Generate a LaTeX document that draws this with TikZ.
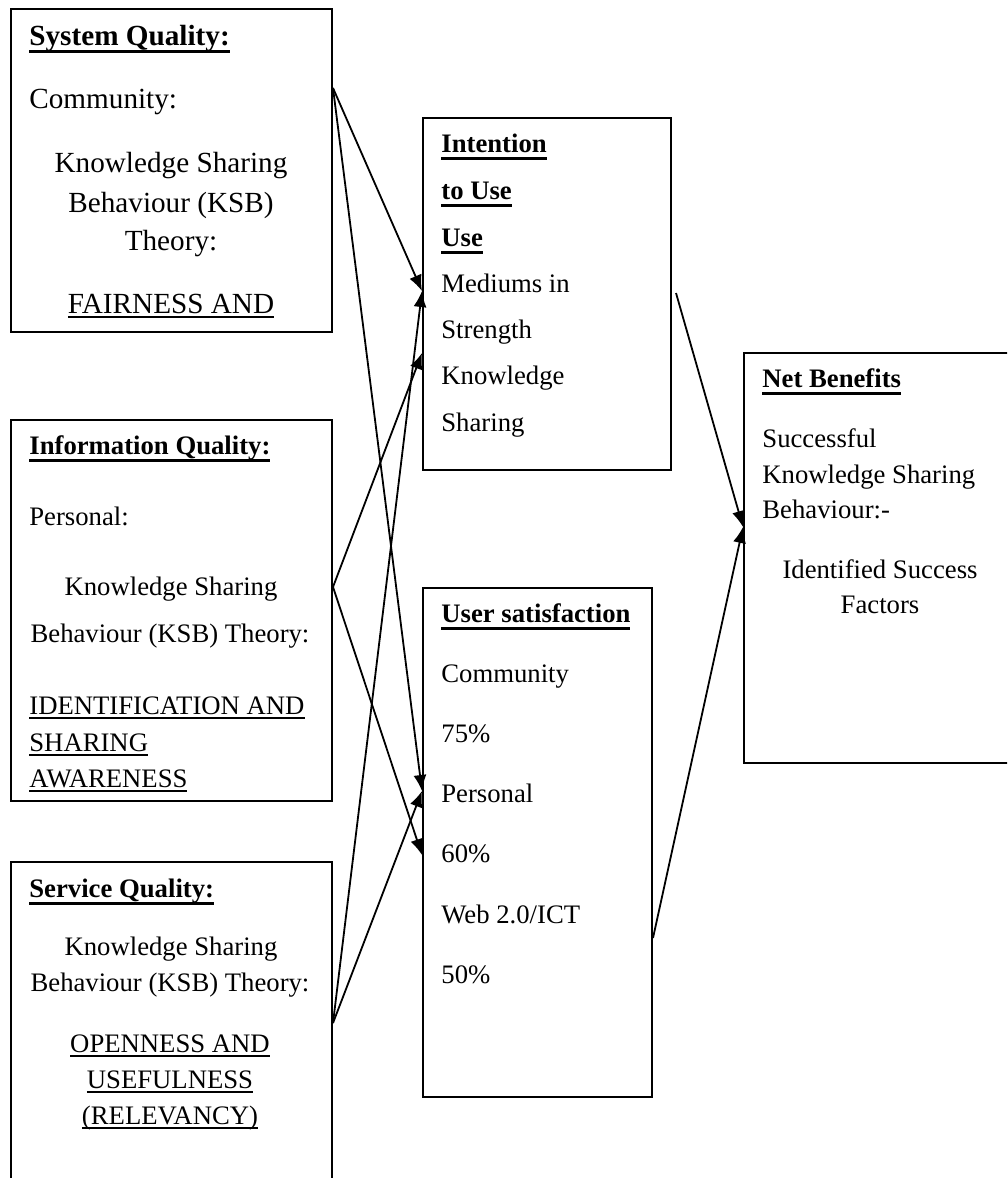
\documentclass[tikz,border=0pt]{standalone}
\usepackage{fontspec}
\setmainfont{Liberation Serif}
\usepackage{tikz}
\usetikzlibrary{arrows.meta, positioning, calc}

% underlined words, as in the reference
\newcommand{\ulword}[1]{\setbox0=\hbox{#1}\rlap{\rule[-2.5pt]{\wd0}{1pt}}\box0}
\newcommand{\ulbold}[1]{\setbox0=\hbox{\bfseries #1}\rlap{\rule[-3.75pt]{\wd0}{1.5pt}}\box0}

\tikzset{
  box/.style={draw, line width=1pt, inner sep=0pt, anchor=north west},
  txt/.style={inner sep=0pt, anchor=base west},
  ctxt/.style={inner sep=0pt, anchor=base},
  bigtxt/.style={font=\fontsize{14.6}{17}\selectfont},
  link/.style={-{Latex[length=8pt,width=6.5pt]}, line width=0.9pt}
}

\begin{document}
\begin{tikzpicture}[x=0.5pt, y=-0.5pt, every node/.style={font=\fontsize{13.35}{16}\selectfont}]
  \useasboundingbox (0,0) rectangle (1007,1178);
  \clip (0,0) rectangle (1007,1178);

  % Boxes
  \node[box, minimum width=160.5pt, minimum height=161.5pt] (sysq) at (10,8) {};
  \node[box, minimum width=160.5pt, minimum height=190.5pt] (infq) at (10,419) {};
  \node[box, minimum width=160.5pt, minimum height=169.5pt] (serq) at (10,861) {};
  \node[box, minimum width=124pt, minimum height=176pt] (intu) at (422,117) {};
  \node[box, minimum width=114.5pt, minimum height=254.5pt] (usat) at (422,587) {};
  \node[box, minimum width=137pt, minimum height=205pt] (netb) at (743,352) {};

  % System Quality
  \node[txt, bigtxt] (sysq-hd) at (29,45) {\ulbold{System Quality:}};
  \node[txt, bigtxt] (sysq-comm) at (29,108) {Community:};
  \node[ctxt, bigtxt] (sysq-ksb1) at (171,172) {Knowledge Sharing};
  \node[ctxt, bigtxt] (sysq-ksb2) at (171,212) {Behaviour (KSB)};
  \node[ctxt, bigtxt] (sysq-ksb3) at (171,250) {Theory:};
  \node[ctxt, bigtxt] (sysq-fair) at (171,313) {\ulword{FAIRNESS AND}};

  % Information Quality
  \node[txt] (infq-hd) at (29,454) {\ulbold{Information Quality:}};
  \node[txt] (infq-pers) at (29,525) {Personal:};
  \node[ctxt] (infq-ksb1) at (171,595) {Knowledge Sharing};
  \node[ctxt] (infq-ksb2) at (170,642) {Behaviour (KSB) Theory:};
  \node[txt] (infq-id1) at (29,714) {\ulword{IDENTIFICATION AND}};
  \node[txt] (infq-id2) at (29,751) {\ulword{SHARING}};
  \node[txt] (infq-id3) at (29,787) {\ulword{AWARENESS}};

  % Service Quality
  \node[txt] (serq-hd) at (29,897) {\ulbold{Service Quality:}};
  \node[ctxt] (serq-ksb1) at (171,955) {Knowledge Sharing};
  \node[ctxt] (serq-ksb2) at (170,991) {Behaviour (KSB) Theory:};
  \node[ctxt] (serq-op1) at (170,1052) {\ulword{OPENNESS AND}};
  \node[ctxt] (serq-op2) at (170,1088) {\ulword{USEFULNESS}};
  \node[ctxt] (serq-op3) at (170,1124) {\ulword{(RELEVANCY)}};

  % Intention to Use
  \node[txt] (intu-hd1) at (441,152) {\ulbold{Intention}};
  \node[txt] (intu-hd2) at (441,199) {\ulbold{to Use}};
  \node[txt] (intu-hd3) at (441,246) {\ulbold{Use}};
  \node[txt] (intu-l1) at (441,292) {Mediums in};
  \node[txt] (intu-l2) at (441,338) {Strength};
  \node[txt] (intu-l3) at (441,384) {Knowledge};
  \node[txt] (intu-l4) at (441,431) {Sharing};

  % User satisfaction
  \node[txt] (usat-hd) at (441,622) {\ulbold{User satisfaction}};
  \node[txt] (usat-comm) at (441,682) {Community};
  \node[txt] (usat-comm-v) at (441,742) {75\%};
  \node[txt] (usat-pers) at (441,802) {Personal};
  \node[txt] (usat-pers-v) at (441,862) {60\%};
  \node[txt] (usat-web) at (441,923) {Web 2.0/ICT};
  \node[txt] (usat-web-v) at (441,983) {50\%};

  % Net Benefits
  \node[txt] (netb-hd) at (762,387) {\ulbold{Net Benefits}};
  \node[txt] (netb-l1) at (762,447) {Successful};
  \node[txt] (netb-l2) at (762,483) {Knowledge Sharing};
  \node[txt] (netb-l3) at (762,518) {Behaviour:-};
  \node[ctxt] (netb-l4) at (880,578) {Identified Success};
  \node[ctxt] (netb-l5) at (880,613) {Factors};

  % Connectors
  \draw[link] ([yshift=-40pt]sysq.north east) -- ([yshift=-87pt]intu.north west);
  \draw[link] ([yshift=-40pt]sysq.north east) -- ([yshift=-102pt]usat.north west);
  \draw[link] ([yshift=-84pt]infq.north east) -- ([yshift=-118pt]intu.north west);
  \draw[link] ([yshift=-84pt]infq.north east) -- ([yshift=-134pt]usat.north west);
  \draw[link] ([yshift=-81pt]serq.north east) -- ([yshift=-87pt]intu.north west);
  \draw[link] ([yshift=-81pt]serq.north east) -- ([yshift=-102pt]usat.north west);
  \coordinate (intu-out) at ([xshift=2pt, yshift=-88pt]intu.north east);
  \draw[link] (intu-out) -- ([yshift=-87.5pt]netb.north west);
  \draw[link] ([yshift=-175.5pt]usat.north east) -- ([yshift=-87.5pt]netb.north west);
\end{tikzpicture}
\end{document}
